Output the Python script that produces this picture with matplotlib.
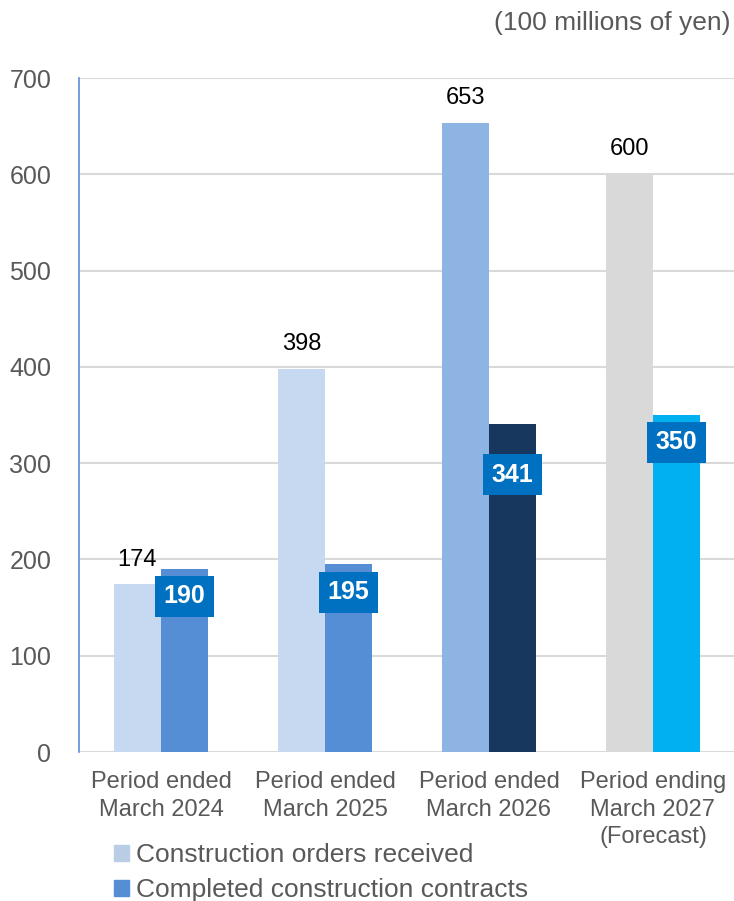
import numpy as np
import matplotlib.pyplot as plt
from matplotlib.patches import Patch

plt.rcParams['font.family'] = ['Liberation Sans', 'DejaVu Sans']

periods = ['Period ended\nMarch 2024', 'Period ended\nMarch 2025',
           'Period ended\nMarch 2026', 'Period ending\nMarch 2027\n(Forecast)']
orders = [174, 398, 653, 600]
contracts = [190, 195, 341, 350]

orders_colors = ['#c6d9f0', '#c6d9f0', '#8eb4e3', '#d9d9d9']
contracts_colors = ['#558ed5', '#558ed5', '#17375e', '#00b0f0']
# how far (px) the boxed label centre sits under the bar top
label_drop = [27, 28, 51, 27]

fig = plt.figure(figsize=(7.34, 9.01), dpi=100)
ax = fig.add_axes([79/734, 1-752/901, 656/734, (752-78)/901])

x = np.arange(len(periods))
w = 0.2866
ax.bar(x - w/2, orders, w, color=orders_colors, zorder=2)
ax.bar(x + w/2, contracts, w, color=contracts_colors, zorder=2)

for i in range(len(x)):
    ax.annotate(str(orders[i]), (x[i] - w/2, orders[i]), xytext=(0, 10),
                textcoords='offset points', ha='center', va='bottom',
                fontsize=17, color='black')
    ax.annotate(str(contracts[i]), (x[i] + w/2, contracts[i]),
                xytext=(0, -label_drop[i]*0.72), textcoords='offset points',
                ha='center', va='center', fontsize=18, fontweight='bold',
                color='white', zorder=5,
                bbox=dict(boxstyle='square,pad=0.34', fc='#0070c0', ec='none'))

ax.set_xlim(-0.5, 3.5)
ax.set_ylim(0, 700)
ax.set_yticks(range(0, 701, 100))
ax.yaxis.grid(True, color='#d9d9d9', linewidth=1.5, zorder=0)
ax.set_axisbelow(True)
for s in ['top', 'right', 'bottom']:
    ax.spines[s].set_visible(False)
ax.spines['left'].set_color('#5b8fd6')
ax.spines['left'].set_linewidth(1.2)
ax.tick_params(axis='y', length=0, pad=20, labelsize=18, labelcolor='#595959')
ax.tick_params(axis='x', length=0, pad=14, labelsize=17, labelcolor='#595959')
ax.set_xticks(x)
ax.set_xticklabels(periods, linespacing=1.3)

fig.text(731/734, 1-23/901, '(100 millions of yen)', ha='right', va='center',
         fontsize=19, color='#595959')

handles = [Patch(color='#b9cde5'), Patch(color='#558ed5')]
fig.legend(handles, ['Construction orders received', 'Completed construction contracts'],
           loc='upper left', bbox_to_anchor=(114/734, 1-843/901), frameon=False,
           fontsize=19, handlelength=0.55, handleheight=0.55, handletextpad=0.3,
           labelspacing=0.42, labelcolor='#595959', borderpad=0, borderaxespad=0)

fig.savefig('out.png', dpi=100)
